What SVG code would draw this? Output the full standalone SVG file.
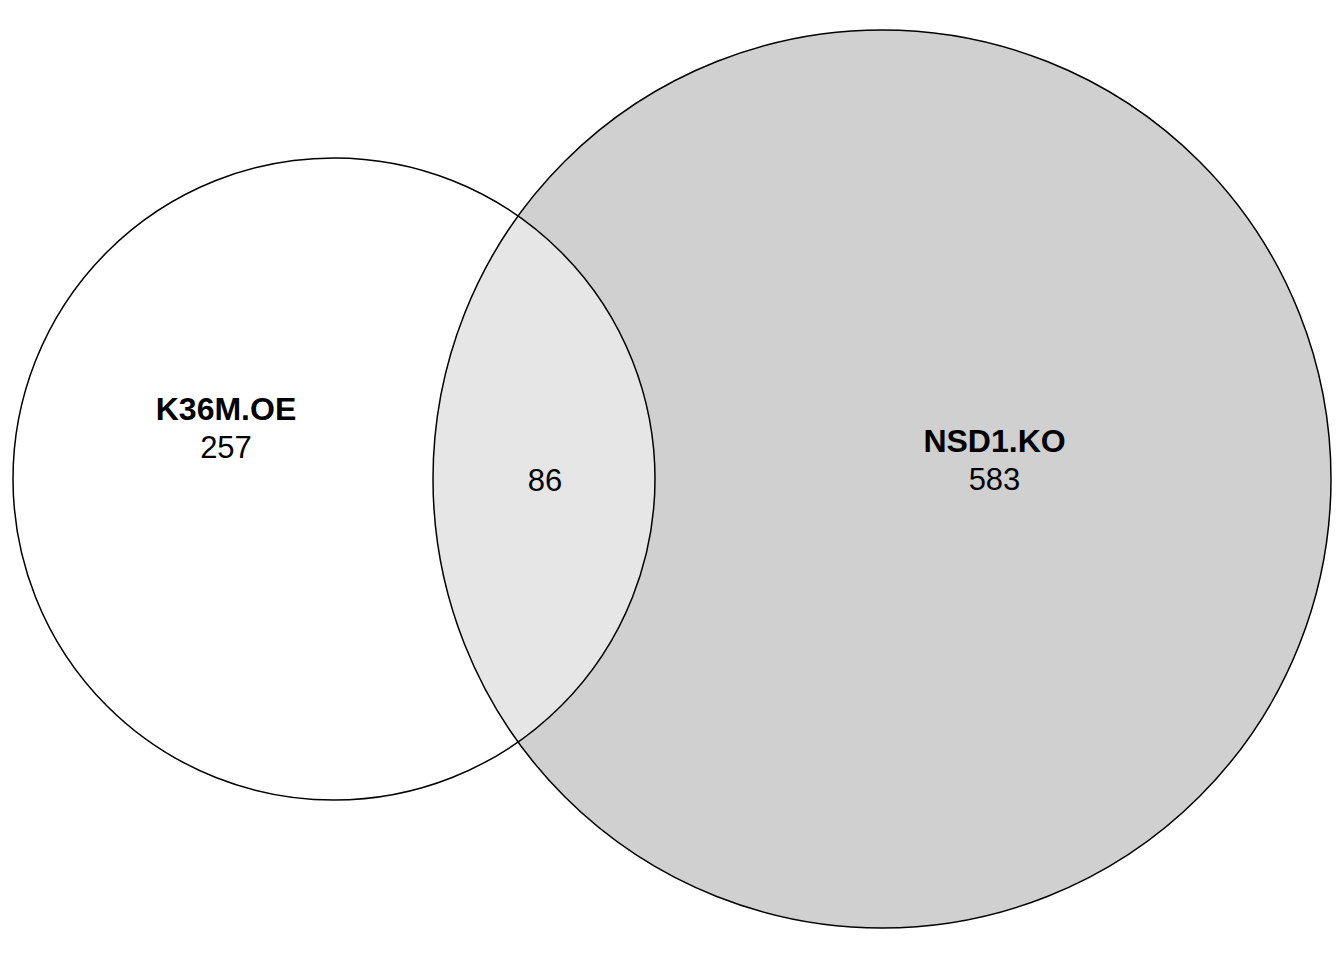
<svg xmlns="http://www.w3.org/2000/svg" width="1344" height="960" viewBox="0 0 1344 960">
<style>
.c{stroke:#000;stroke-width:1.5;}
.t{font-family:"Liberation Sans",Arial,sans-serif;font-size:31px;text-anchor:middle;fill:#000;}
.b{font-weight:bold;font-size:32px;}
</style>
<defs>
<clipPath id="clipL"><circle cx="334" cy="479" r="321"/></clipPath>
</defs>
<rect width="1344" height="960" fill="#fff"/>
<g id="NSD1.KO">
<circle cx="882" cy="479" r="449" fill="#d0d0d0" stroke="none"/>
</g>
<g id="K36M.OE">
<circle cx="334" cy="479" r="321" fill="#fff" stroke="none"/>
</g>
<g id="overlap">
<circle cx="882" cy="479" r="449" fill="#e6e6e6" clip-path="url(#clipL)"/>
</g>
<g id="outlines" fill="none">
<circle class="c" cx="334" cy="479" r="321"/>
<circle class="c" cx="882" cy="479" r="449"/>
</g>
<g id="labels">
<text class="t b" x="226" y="420">K36M.OE</text>
<text class="t" x="226" y="458">257</text>
<text class="t" x="545" y="491">86</text>
<text class="t b" x="994.5" y="452">NSD1.KO</text>
<text class="t" x="994.5" y="490">583</text>
</g>
</svg>
